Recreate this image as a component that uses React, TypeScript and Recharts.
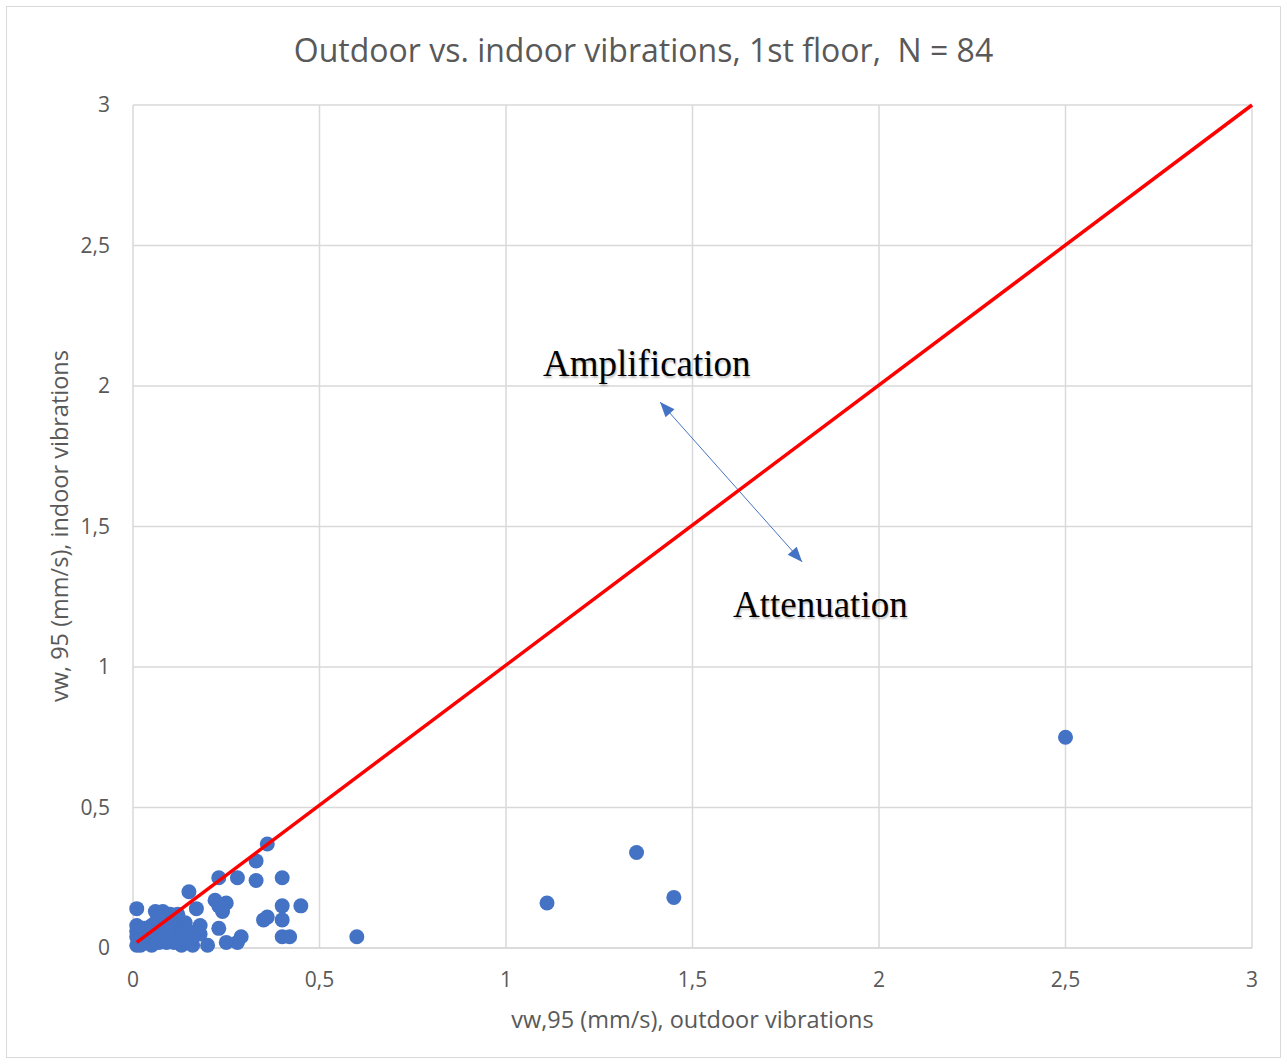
import { ScatterChart, Scatter, XAxis, YAxis, CartesianGrid, ReferenceLine } from 'recharts'

// outdoor vw,95 (mm/s)
const outdoorX = [
  0.6, 1.11, 1.35, 1.45, 2.5,
  0.36, 0.33, 0.23, 0.28, 0.33, 0.4, 0.15, 0.22, 0.25, 0.23, 0.24, 0.17, 0.4, 0.45, 0.35,
  0.36, 0.4, 0.4, 0.42, 0.29, 0.28, 0.25, 0.2, 0.23, 0.18, 0.18,
  0.01, 0.06, 0.08, 0.1, 0.09, 0.12, 0.14, 0.13, 0.01, 0.01, 0.01, 0.01, 0.02, 0.03, 0.04,
  0.05, 0.05, 0.06, 0.07, 0.07, 0.08, 0.08, 0.09, 0.09, 0.1, 0.1, 0.11, 0.11, 0.12, 0.12,
  0.13, 0.13, 0.14, 0.14, 0.15, 0.15, 0.16, 0.16, 0.17, 0.02, 0.03, 0.04, 0.06, 0.07, 0.08,
  0.11, 0.12, 0.02, 0.03, 0.05, 0.06, 0.09, 0.1,
]
// indoor vw,95 (mm/s)
const indoorY = [
  0.04, 0.16, 0.34, 0.18, 0.75,
  0.37, 0.31, 0.25, 0.25, 0.24, 0.25, 0.2, 0.17, 0.16, 0.15, 0.13, 0.14, 0.15, 0.15, 0.1,
  0.11, 0.1, 0.04, 0.04, 0.04, 0.02, 0.02, 0.01, 0.07, 0.08, 0.05,
  0.14, 0.13, 0.13, 0.12, 0.11, 0.1, 0.09, 0.08, 0.08, 0.06, 0.04, 0.01, 0.01, 0.02, 0.04,
  0.01, 0.03, 0.05, 0.08, 0.02, 0.04, 0.06, 0.02, 0.08, 0.05, 0.03, 0.07, 0.02, 0.05, 0.04,
  0.01, 0.06, 0.03, 0.07, 0.05, 0.02, 0.01, 0.04, 0.06, 0.05, 0.03, 0.06, 0.09, 0.11, 0.1,
  0.11, 0.12, 0.03, 0.07, 0.08, 0.03, 0.06, 0.09,
]

// x = y reference line
const lineX = [0.01, 3]
const lineY = [0.02, 3]

// amplification / attenuation arrow
const arrowX = [1.413, 1.794]
const arrowY = [1.943, 1.374]

const axisTicks = [0, 0.5, 1, 1.5, 2, 2.5, 3]

const points = outdoorX.map((x, i) => ({ x, y: indoorY[i] }))
const diagonal = lineX.map((x, i) => ({ x, y: lineY[i] }))

const TEXT = '#595959'
const GRID = '#d9d9d9'
const BLUE = '#4472C4'

const fmt = (v: number) => String(v).replace('.', ',')

function ArrowShape(props: any) {
  const { x1, y1, x2, y2 } = props
  if (x1 == null) return null
  const ang = Math.atan2(y2 - y1, x2 - x1)
  const head = (x: number, y: number, a: number) => {
    const len = 15
    const w = 6
    const bx = x - len * Math.cos(a)
    const by = y - len * Math.sin(a)
    const px = -Math.sin(a) * w
    const py = Math.cos(a) * w
    return `${x},${y} ${bx + px},${by + py} ${bx - px},${by - py}`
  }
  return (
    <g>
      <line x1={x1} y1={y1} x2={x2} y2={y2} stroke={BLUE} strokeWidth={1} />
      <polygon points={head(x1, y1, ang + Math.PI)} fill={BLUE} />
      <polygon points={head(x2, y2, ang)} fill={BLUE} />
    </g>
  )
}

const serif: React.CSSProperties = {
  position: 'absolute',
  fontFamily: '"Liberation Serif", "DejaVu Serif", serif',
  fontSize: 37,
  lineHeight: 1,
  color: '#000',
  textShadow: '1px 2px 2px rgba(0,0,0,0.25)',
  whiteSpace: 'nowrap',
}

export default function App() {
  return (
    <div style={{ position: 'absolute', left: 0, top: 0, width: 1287, height: 1064, background: '#fff', fontFamily: '"Open Sans", sans-serif' }}>
      <div style={{ position: 'absolute', left: 6, top: 6, width: 1275, height: 1052, border: `1.5px solid ${GRID}`, boxSizing: 'border-box' }} />
      <div style={{ position: 'absolute', left: 6, width: 1275, top: 29, textAlign: 'center', fontSize: 32, color: TEXT, lineHeight: 1.3, whiteSpace: 'pre' }}>
        {'Outdoor vs. indoor vibrations, 1st floor,  N = 84'}
      </div>
      <ScatterChart width={1287} height={1064} margin={{ top: 105, right: 35, bottom: 76, left: 73 }}>
        <CartesianGrid stroke={GRID} strokeWidth={1.5} />
        <XAxis
          type="number"
          dataKey="x"
          domain={[0, 3]}
          ticks={axisTicks}
          tickFormatter={fmt}
          axisLine={{ stroke: GRID, strokeWidth: 1.5 }}
          tickLine={false}
          tickMargin={18}
          height={40}
          tick={{ fill: TEXT, fontSize: 21 }}
        />
        <YAxis
          type="number"
          dataKey="y"
          domain={[0, 3]}
          ticks={axisTicks}
          tickFormatter={fmt}
          axisLine={false}
          tickLine={false}
          tickMargin={17}
          width={60}
          tick={{ fill: TEXT, fontSize: 21 }}
        />
        <Scatter data={points} fill={BLUE} isAnimationActive={false} shape={(p: any) => <circle cx={p.cx} cy={p.cy} r={7.5} fill={BLUE} />} />
        <Scatter
          data={diagonal}
          line={{ stroke: '#FF0000', strokeWidth: 3.5 }}
          shape={() => <g />}
          isAnimationActive={false}
        />
        <ReferenceLine
          segment={[{ x: arrowX[0], y: arrowY[0] }, { x: arrowX[1], y: arrowY[1] }]}
          shape={ArrowShape}
        />
      </ScatterChart>
      <div style={{ ...serif, left: 543, top: 345 }}>Amplification</div>
      <div style={{ ...serif, left: 733, top: 586 }}>Attenuation</div>
      <div style={{ position: 'absolute', left: 0, width: 1385, top: 1004, textAlign: 'center', fontSize: 23.5, color: TEXT, lineHeight: 1.3 }}>
        vw,95 (mm/s), outdoor vibrations
      </div>
      <div style={{ position: 'absolute', left: 59, top: 526, transform: 'translate(-50%, -50%) rotate(-90deg)', fontSize: 23.5, color: TEXT, lineHeight: 1.3, whiteSpace: 'nowrap' }}>
        vw, 95 (mm/s), indoor vibrations
      </div>
    </div>
  )
}
